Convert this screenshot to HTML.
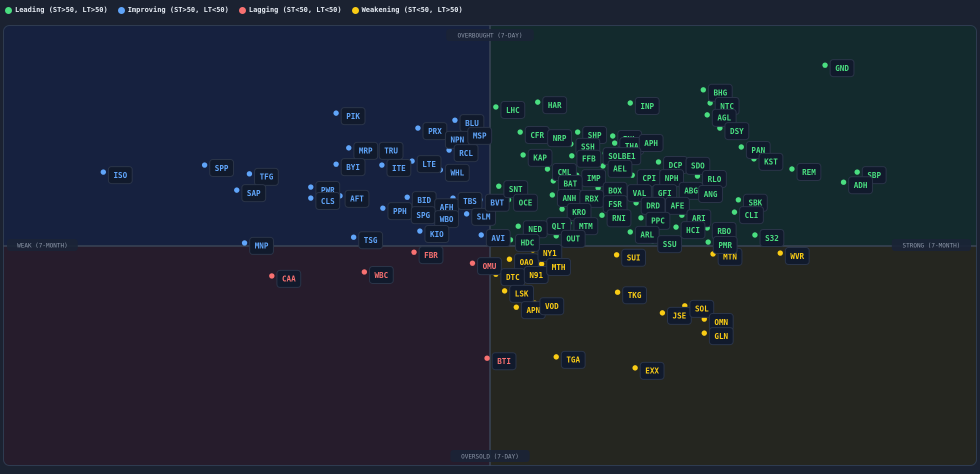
<!DOCTYPE html>
<html><head><meta charset="utf-8">
<style>
body{margin:0;background:#1b2231;width:980px;height:474px;overflow:hidden;font-family:"DejaVu Sans Mono","Liberation Mono",monospace;}
#legend{position:absolute;left:5px;top:4px;height:12px;display:flex;gap:10px;font-size:7px;color:#e2e8f0;font-weight:bold;}
.li{display:flex;align-items:center;gap:3px}
.li i{width:7px;height:7px;border-radius:50%;display:inline-block}
svg{position:absolute;left:0;top:0}
</style></head><body>
<div id="legend">
<div class="li"><i style="background:#4ade80"></i>Leading (ST&gt;50, LT&gt;50)</div>
<div class="li"><i style="background:#60a5fa"></i>Improving (ST&gt;50, LT&lt;50)</div>
<div class="li"><i style="background:#f87171"></i>Lagging (ST&lt;50, LT&lt;50)</div>
<div class="li"><i style="background:#facc15"></i>Weakening (ST&lt;50, LT&gt;50)</div>
</div>
<svg id="chart" width="980" height="474">
<defs><clipPath id="pc"><rect x="3" y="25" width="974" height="441" rx="6"/></clipPath></defs>
<g clip-path="url(#pc)">
<rect x="3" y="25" width="487" height="221" fill="#16213f"/>
<rect x="490" y="25" width="487" height="221" fill="#132a2d"/>
<rect x="3" y="246" width="487" height="220" fill="#261c2c"/>
<rect x="490" y="246" width="487" height="220" fill="#252620"/>
</g>
<rect x="3.5" y="25.5" width="973" height="440" rx="6" fill="none" stroke="#2e3b50"/>
<line x1="490" y1="25" x2="490" y2="466" stroke="#3a4557" stroke-width="1.5"/>
<line x1="3" y1="246" x2="977" y2="246" stroke="#3a4557" stroke-width="1.5"/>
<g id="axlabels"></g>
<g id="marks"></g>
</svg>
<script>
const names=["ISO","SPP","TFG","SAP","PWR","CLS","AFT","PIK","MRP","BYI","TRU","ITE","PRX","BLU","NPN","MSP","RCL","LTE","WHL","BID","PPH","AFH","SPG","WBO","TBS","SLM","KIO","TSG","MNP","AVI","BVT",
"CAA","WBC","FBR","OMU","BTI",
"OAO","NY1","DTC","N91","LSK","APN","VOD","TGA","EXX","TKG","JSE","SOL","OMN","GLN","SUI","MTN","WVR",
"GND","LHC","HAR","INP","BHG","NTC","AGL","DSY","CFR","NRP","SHP","INL","THA","APH","SSH","SOLBE1","KAP","PAN","KST","REM","SBP","ADH","FFB","AEL","DCP","SDO","CML","IMP","CPI","NPH","RLO","BAT","BOX","VAL","GFI","ABG","ANG","SNT","OCE","ANH","RBX","FSR","DRD","AFE","SBK","CLI","KRO","RNI","PPC","ARI","MTM","QLT","NED","HCI","RBO","S32","ARL","SSU","PMR","OUT","HDC","MTH"];
const longTerm=[10.3,20.7,25.3,24.0,31.6,31.6,34.6,34.2,35.5,34.2,38.1,38.9,42.6,46.4,44.9,47.2,45.8,42.0,44.9,41.5,39.0,43.8,41.4,43.8,46.2,47.6,42.8,36.0,24.8,49.1,49.0,
27.6,37.1,42.2,48.2,49.7,
52.0,54.4,50.6,53.0,51.5,52.7,54.6,56.8,64.9,63.1,67.7,70.0,72.0,72.0,63.0,72.9,79.8,
84.4,50.6,54.9,64.4,71.9,72.6,72.3,73.6,53.1,55.4,59.0,62.6,62.8,64.8,58.3,61.8,53.4,75.8,77.1,81.0,87.7,86.3,58.4,61.6,67.3,69.6,55.9,58.9,64.6,66.9,71.3,56.5,61.1,63.6,66.2,68.9,70.9,50.9,51.9,56.4,58.7,61.1,65.0,67.5,75.5,75.1,57.4,61.5,65.5,69.7,58.1,55.3,52.9,69.1,72.3,77.2,64.4,66.7,72.4,56.8,52.1,55.3];
const shortTerm=[66.8,68.4,66.4,62.7,63.4,60.9,61.4,80.2,72.3,68.6,72.3,68.4,76.8,78.6,74.8,75.7,71.8,69.3,67.3,61.1,58.6,59.5,57.7,56.8,60.9,57.3,53.4,52.0,50.7,52.5,60.5,
43.2,44.1,48.6,46.1,24.5,
47.0,49.1,43.6,44.1,39.8,36.1,37.0,24.8,22.3,39.5,34.8,36.4,33.4,30.2,48.0,48.2,48.4,
91.1,81.6,82.7,82.5,85.5,82.5,79.8,76.8,75.9,75.2,75.9,75.0,73.4,74.1,73.2,71.1,70.7,72.5,69.8,67.5,66.8,64.5,70.5,68.2,69.1,68.9,67.5,66.1,66.1,66.1,65.9,64.8,63.2,62.7,62.7,63.2,62.5,63.6,60.5,61.6,61.4,60.2,59.8,59.8,60.5,57.7,58.4,57.0,56.4,57.0,55.2,55.2,54.5,54.3,54.1,52.5,53.2,51.1,50.9,52.3,51.4,45.9];
const axisLabels=["OVERBOUGHT (7-DAY)","OVERSOLD (7-DAY)","WEAK (7-MONTH)","STRONG (7-MONTH)"];
const NS="http://www.w3.org/2000/svg";
const xS=v=>3+v/100*974, yS=v=>466-v/100*440;
function el(t,a,p){const e=document.createElementNS(NS,t);for(const k in a)e.setAttribute(k,a[k]);p.appendChild(e);return e;}
const colors={lead:"#4ade80",imp:"#60a5fa",lag:"#f87171",weak:"#facc15"};
const ax=document.getElementById('axlabels');
const apos=[[490,35,'middle'],[490,456,'middle'],[10,245,'start'],[965,245,'end']];
axisLabels.forEach((t,i)=>{
 const w=t.length*4.2+12,[x,y,a]=apos[i];
 const bx=a==='middle'?x-w/2:a==='start'?x-3:x-w+6;
 const g=el('g',{},ax);
 
 
 el('rect',{x:bx,y:y-6,width:w,height:12,rx:3,fill:'#1b2436',opacity:0.9},g);
 const tx=el('text',{x:bx+w/2,y:y+2.5,'text-anchor':'middle','font-size':'6','fill':'#8a94a6','font-family':'"DejaVu Sans Mono",monospace'},g);
 tx.textContent=t;
});
const m=document.getElementById('marks');
const dots=el('g',{},m), labs=el('g',{},m);
names.forEach((n,i)=>{
 const lt=longTerm[i], st=shortTerm[i];
 const c=st>=50?(lt>=50?colors.lead:colors.imp):(lt>=50?colors.weak:colors.lag);
 const x=xS(lt), y=yS(st);
 const d=el('circle',{cx:x,cy:y,r:2.7,fill:c},dots);
 
 
 const w=n.length*4.6+10, lx=x+17, ly=y+3;
 const g=el('g',{},labs);
 
 
 el('rect',{x:lx-w/2,y:ly-8.5,width:w,height:17,rx:3,fill:'#111a2c',stroke:'#2a3448','stroke-width':1},g);
 const t=el('text',{x:lx,y:ly+2.8,'text-anchor':'middle','font-size':'7.6','font-weight':'bold',fill:c,'font-family':'"DejaVu Sans Mono",monospace'},g);
 t.textContent=n;
});
</script>
</body></html>
